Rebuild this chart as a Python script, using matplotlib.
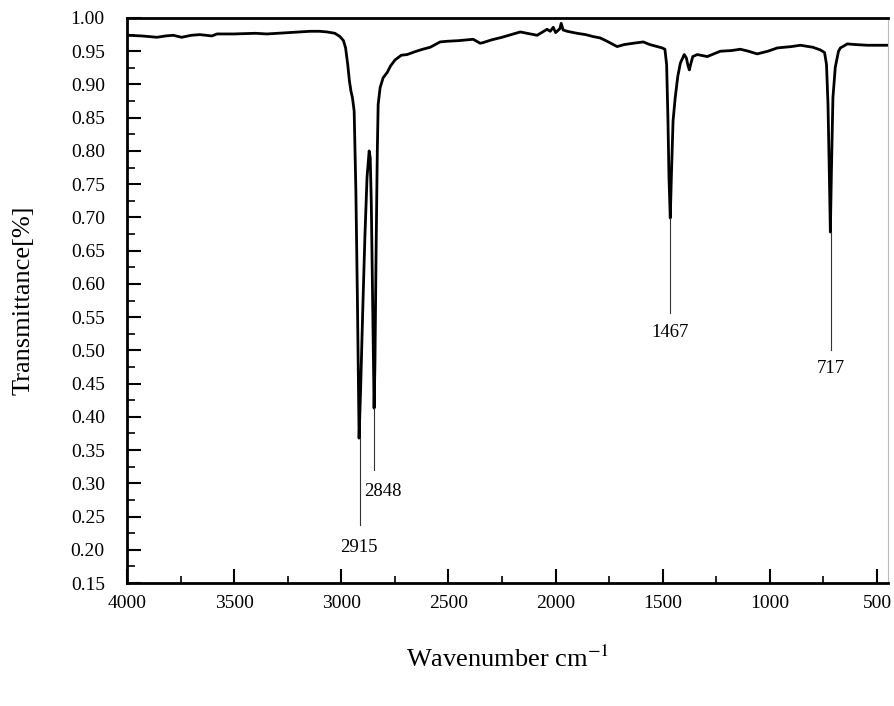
import matplotlib
matplotlib.use("Agg")
import matplotlib.pyplot as plt
from matplotlib.ticker import MultipleLocator
import numpy as np

plt.rcParams['font.family'] = ['Liberation Serif', 'DejaVu Serif']
plt.rcParams['mathtext.fontset'] = 'stix'

# Spectrum (wavenumber cm^-1, transmittance)
wavenumber = [4000, 3930, 3860, 3820, 3785, 3745, 3700, 3660, 3604, 3580, 3500, 3400,
              3347, 3250, 3146, 3100, 3066, 3030, 3006, 2990, 2980, 2970, 2962, 2955,
              2948, 2940, 2932, 2925, 2917, 2910, 2900, 2890, 2880, 2870, 2865, 2860,
              2855, 2850, 2847, 2843, 2838, 2832, 2828, 2819, 2805, 2786, 2770, 2749,
              2720, 2693, 2650, 2620, 2585, 2539, 2506, 2450, 2385, 2352, 2338, 2300,
              2250, 2165, 2086, 2040, 2025, 2011, 2000, 1990, 1980, 1974, 1965, 1946,
              1900, 1860, 1824, 1792, 1760, 1713, 1680, 1638, 1591, 1560, 1526, 1503,
              1490, 1482, 1476, 1471, 1465, 1460, 1452, 1442, 1430, 1418, 1400, 1390,
              1382, 1376, 1370, 1360, 1339, 1292, 1232, 1180, 1138, 1100, 1059, 1010,
              965, 900, 858, 800, 765, 745, 736, 729, 723, 718, 713, 706, 695, 680,
              671, 639, 600, 545, 500, 452]
transmittance = [0.974, 0.973, 0.971, 0.973, 0.974, 0.971, 0.974, 0.975, 0.973, 0.976, 0.976, 0.977,
                 0.976, 0.978, 0.980, 0.980, 0.979, 0.977, 0.972, 0.966, 0.955, 0.930, 0.905, 0.890,
                 0.880, 0.860, 0.740, 0.580, 0.368, 0.440, 0.560, 0.670, 0.760, 0.800, 0.790, 0.720,
                 0.600, 0.470, 0.413, 0.480, 0.640, 0.800, 0.870, 0.895, 0.910, 0.918, 0.928, 0.937,
                 0.944, 0.945, 0.950, 0.953, 0.956, 0.964, 0.965, 0.966, 0.968, 0.962, 0.963, 0.967,
                 0.971, 0.979, 0.974, 0.983, 0.980, 0.986, 0.978, 0.981, 0.984, 0.992, 0.982, 0.980,
                 0.977, 0.975, 0.972, 0.970, 0.965, 0.957, 0.960, 0.962, 0.964, 0.960, 0.957, 0.955,
                 0.953, 0.930, 0.850, 0.760, 0.699, 0.760, 0.845, 0.880, 0.912, 0.932, 0.945, 0.940,
                 0.928, 0.922, 0.930, 0.942, 0.945, 0.942, 0.950, 0.951, 0.953, 0.950, 0.946, 0.950,
                 0.955, 0.957, 0.959, 0.956, 0.952, 0.948, 0.930, 0.870, 0.770, 0.678, 0.770, 0.880,
                 0.926, 0.950, 0.955, 0.961, 0.960, 0.959, 0.959, 0.959]

# Peak annotations
peak_labels = ['2915', '2848', '1467', '717']
peak_wn = [2915, 2848, 1467, 717]
peak_min = [0.368, 0.413, 0.699, 0.678]
line_end = [0.237, 0.320, 0.556, 0.500]
text_xy = [(2917, 0.204), (2808, 0.287), (1465, 0.527), (715, 0.473)]

fig = plt.figure(figsize=(8.95, 7.06), dpi=100)
ax = fig.add_axes([127/895, 1-583/706, (888-127)/895, (583-18)/706])

ax.plot(wavenumber, transmittance, color='black', lw=2.0, solid_joinstyle='round')

for lab, wx, ymin, yend, (tx, ty) in zip(peak_labels, peak_wn, peak_min, line_end, text_xy):
    ax.plot([wx, wx], [ymin, yend], color='#333333', lw=0.8)
    ax.text(tx, ty, lab, ha='center', va='center', fontsize=13.5)

ax.set_xlim(4000, 449)
ax.set_ylim(0.15, 1.00)
ax.xaxis.set_major_locator(MultipleLocator(500))
ax.xaxis.set_minor_locator(MultipleLocator(250))
ax.yaxis.set_major_locator(MultipleLocator(0.05))
ax.yaxis.set_minor_locator(MultipleLocator(0.025))
ax.yaxis.set_major_formatter(plt.FuncFormatter(lambda v, p: f"{v:.2f}"))

ax.tick_params(which='both', direction='in', top=False, right=False, labelsize=14)
ax.tick_params(axis='y', which='major', length=10, width=1.5, pad=16)
ax.tick_params(axis='y', which='minor', length=6, width=1.2)
ax.tick_params(axis='x', which='major', length=10, width=1.5, pad=9)
ax.tick_params(axis='x', which='minor', length=5, width=1.2)

for s in ['left', 'bottom', 'top']:
    ax.spines[s].set_linewidth(2.0)
ax.spines['right'].set_linewidth(0.8)
ax.spines['right'].set_color('#bbbbbb')

ax.set_ylabel('Transmittance[%]', fontsize=19, labelpad=26)
ax.set_xlabel('Wavenumber cm$^{-1}$', fontsize=19, labelpad=24)

fig.savefig('out.png', dpi=100)
